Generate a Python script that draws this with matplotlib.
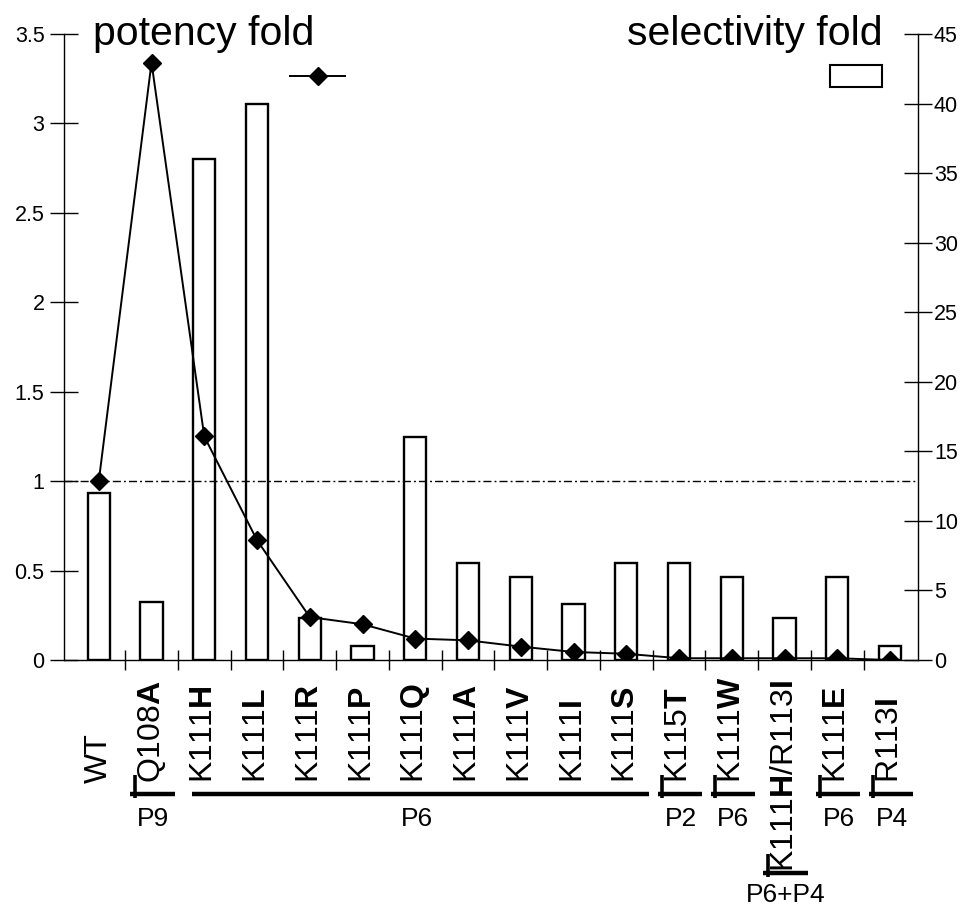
import matplotlib
matplotlib.use("Agg")
import matplotlib.pyplot as plt
import matplotlib.transforms as mtransforms
from matplotlib.lines import Line2D
from matplotlib.patches import Rectangle

plt.rcParams['font.family'] = ['Liberation Sans', 'DejaVu Sans']
plt.rcParams['mathtext.fontset'] = 'custom'
plt.rcParams['mathtext.rm'] = 'Liberation Sans'
plt.rcParams['mathtext.bf'] = 'Liberation Sans:bold'

# mutants: (plain part, bold part)
mutants = [("WT", ""), ("Q108", "A"), ("K111", "H"), ("K111", "L"), ("K111", "R"),
           ("K111", "P"), ("K111", "Q"), ("K111", "A"), ("K111", "V"), ("K111", "I"),
           ("K111", "S"), ("K115", "T"), ("K111", "W"), ("K111H/R113I", ""),
           ("K111", "E"), ("R113", "I")]
potency = [1.0, 3.34, 1.25, 0.67, 0.24, 0.20, 0.12, 0.11, 0.075, 0.045, 0.035,
           0.01, 0.01, 0.01, 0.01, 0.0]
selectivity = [12, 4.2, 36, 40, 3, 1, 16, 7, 6, 4, 7, 7, 6, 3, 6, 1]
# pocket groups: (label, first index, last index)
groups = [("P9", 1, 1), ("P6", 2, 10), ("P2", 11, 11), ("P6", 12, 12),
          ("P6+P4", 13, 13), ("P6", 14, 14), ("P4", 15, 15)]

x = list(range(len(mutants)))

fig = plt.figure(figsize=(9.72, 9.09), dpi=100)
ax_bar = fig.add_axes([0.0658, 0.2739, 0.8786, 0.6887])
ax_line = ax_bar.twinx()

# bars -> selectivity (right axis)
ax_bar.bar(x, selectivity, width=0.42, facecolor='white', edgecolor='black', linewidth=1.7)
ax_bar.set_ylim(0, 45)
ax_bar.set_xlim(-0.66, 15.53)
ax_bar.yaxis.tick_right()
ax_bar.set_yticks(range(0, 46, 5))
ax_bar.tick_params(axis='y', direction='inout', length=20, width=1, pad=1.5, labelsize=15.5)
ax_bar.set_xticks([i + 0.5 for i in x[:-1]])
ax_bar.set_xticklabels([])
ax_bar.tick_params(axis='x', direction='inout', length=14, width=1)
for s in ['top', 'left']:
    ax_bar.spines[s].set_visible(False)
ax_bar.spines['right'].set_linewidth(1)
ax_bar.spines['bottom'].set_linewidth(1)

# line -> potency (left axis)
ax_line.set_ylim(0, 3.5)
ax_line.yaxis.tick_left()
ax_line.set_yticks([0, 0.5, 1, 1.5, 2, 2.5, 3, 3.5])
ax_line.set_yticklabels(['0', '0.5', '1', '1.5', '2', '2.5', '3', '3.5'])
ax_line.tick_params(axis='y', direction='inout', length=20, width=1, pad=4, labelsize=15.5)
for s in ['top', 'right', 'bottom']:
    ax_line.spines[s].set_visible(False)
ax_line.spines['left'].set_visible(True)
ax_line.spines['left'].set_linewidth(1)
ax_line.axhline(1.0, color='black', linewidth=1, linestyle=(0, (5.8, 2.2, 1.4, 2.2)))
ax_line.plot(x, potency, color='black', linewidth=1.4, marker='D', markersize=9,
             markerfacecolor='black', markeredgecolor='black')

# category labels
trans = mtransforms.blended_transform_factory(ax_bar.transData, ax_bar.transAxes)
for i, (plain, bold) in enumerate(mutants):
    if bold:
        txt = r"$\mathrm{%s}\mathbf{%s}$" % (plain, bold)
    else:
        txt = plain
    if plain == "K111H/R113I":
        txt = r"$\mathrm{K111}\mathbf{H}\mathrm{/R113}\mathbf{I}$"
        ax_bar.text(i, -0.032, txt, transform=trans, rotation=90, ha='center',
                    va='top', fontsize=23)
    else:
        ax_bar.text(i, -0.1965, txt, transform=trans, rotation=90, ha='center',
                    va='bottom', fontsize=23)

# pocket brackets
for name, a, b in groups:
    if name == "P6+P4":
        yl, yt, ytick = -0.340, -0.375, (-0.346, -0.310)
    else:
        yl, yt, ytick = -0.214, -0.254, (-0.220, -0.184)
    left = a - 0.24 if a != b else a - 0.4
    ax_bar.plot([left, b + 0.44], [yl, yl], transform=trans, color='black',
                linewidth=3.2, solid_capstyle='butt', clip_on=False)
    if a == b:
        ax_bar.plot([a - 0.32, a - 0.32], ytick, transform=trans, color='black',
                    linewidth=2.6, solid_capstyle='butt', clip_on=False)
    ax_bar.text((a + b) / 2 + 0.03, yt, name, transform=trans, ha='center',
                va='center', fontsize=19)

# titles and legend keys
fig.text(0.0957, 0.9505, "potency fold", fontsize=29.5, ha='left', va='baseline')
fig.text(0.9084, 0.9505, "selectivity fold", fontsize=29.5, ha='right', va='baseline')
fig.add_artist(Line2D([290 / 972, 345 / 972], [1 - 76 / 909, 1 - 76 / 909], color='black',
                      linewidth=1.4, transform=fig.transFigure))
fig.add_artist(Line2D([317.5 / 972], [1 - 76 / 909], color='black', marker='D',
                      markersize=9, transform=fig.transFigure))
fig.add_artist(Rectangle((830 / 972, 1 - 87 / 909), 52 / 972, 22 / 909, facecolor='white',
                         edgecolor='black', linewidth=1.5, transform=fig.transFigure))

fig.savefig("out.png", dpi=100)
